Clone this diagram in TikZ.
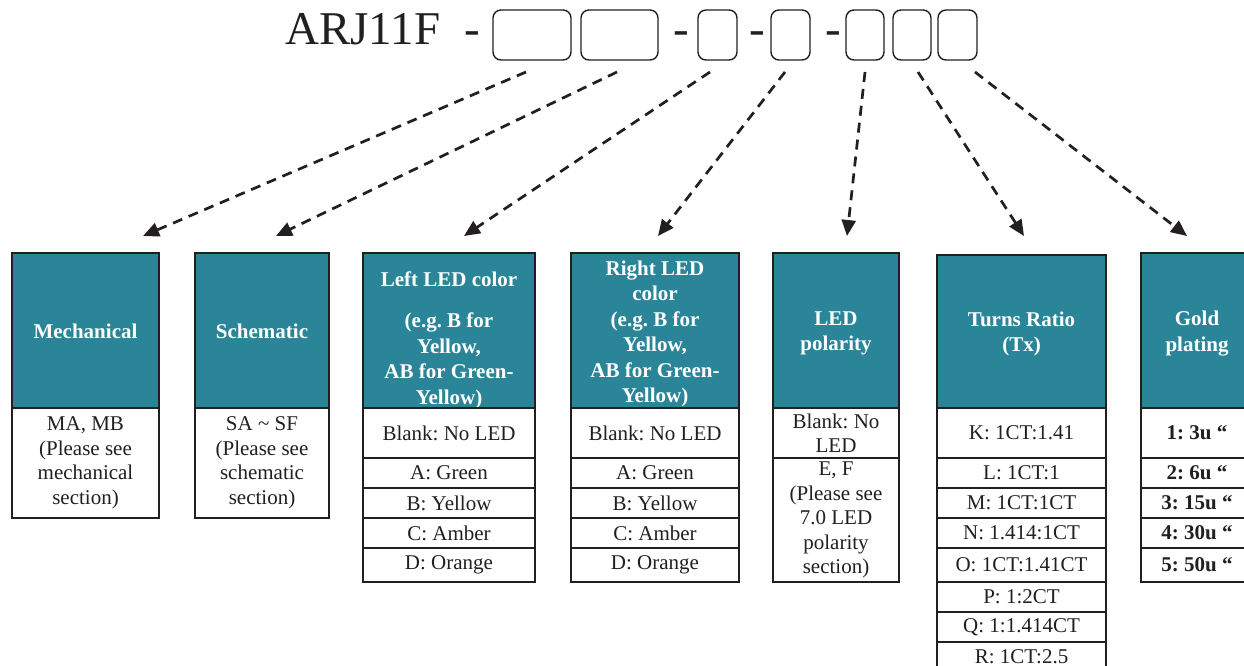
\documentclass[tikz,border=0pt]{standalone}
\usepackage{fontspec}
\setmainfont{Liberation Serif}
\usetikzlibrary{arrows.meta}
\frenchspacing
\definecolor{teal}{RGB}{43,133,152}
\definecolor{lc}{RGB}{35,31,32}
\definecolor{tc}{RGB}{35,31,32}
\newcommand\mycell[7]{%
 \pgfmathsetmacro\cx{(#3+#5)/2}\pgfmathsetmacro\cy{(#4+#6)/2}%
 \pgfmathsetmacro\cw{#5-#3}\pgfmathsetmacro\ch{#6-#4}%
 \node[#2, minimum width=\cw pt, minimum height=\ch pt] (#1) at (\cx,\cy) {#7};}
\tikzset{
 cellbase/.style={draw=lc, line width=1.8pt, inner sep=0pt, align=center},
 hdr/.style={cellbase, fill=teal},
 hdrtxt/.style={inner sep=0pt, align=center, text=white, font=\fontsize{21}{25.5}\selectfont\bfseries},
 body/.style={cellbase, fill=white, text=tc, font=\fontsize{21}{24.5}\selectfont},
 bodyb/.style={body, font=\fontsize{21}{24.5}\selectfont\bfseries},
 tbox/.style={draw=lc, line width=1.4pt, rounded corners=8pt, inner sep=0pt},
 titletxt/.style={inner sep=0pt, text=tc, font=\fontsize{47}{50}\selectfont},
 arr/.style={draw=lc, line width=2.7pt, dash pattern=on 10pt off 7pt, -{Triangle[length=16pt,width=14pt]}}
}
\begin{document}
\begin{tikzpicture}[x=1pt,y=-1pt]
\useasboundingbox (0,0) rectangle (1244,666);
% title
\node[titletxt, anchor=base west] (title) at (285,45) {ARJ11F};
\node[titletxt, anchor=base] (d1) at (472,45) {-};
\node[titletxt, anchor=base] (d2) at (681.5,45) {-};
\node[titletxt, anchor=base] (d3) at (757,45) {-};
\node[titletxt, anchor=base] (d4) at (833.5,45) {-};
\mycell{b1}{tbox}{493}{10}{571}{60}{}
\mycell{b2}{tbox}{581}{10}{658}{60}{}
\mycell{b3}{tbox}{698}{10}{737}{60}{}
\mycell{b4}{tbox}{771}{10}{810}{60}{}
\mycell{b5}{tbox}{846}{10}{884}{60}{}
\mycell{b6}{tbox}{893}{10}{931}{60}{}
\mycell{b7}{tbox}{938}{10}{977}{60}{}
% Mechanical
\mycell{mh}{hdr}{12}{253}{159}{408}{}
\node[hdrtxt] (mht) at (85.5,331) {Mechanical};
\mycell{mb}{body}{12}{408}{159}{518}{MA, MB\\(Please see\\mechanical\\section)}
% Schematic
\mycell{sh}{hdr}{195}{253}{329}{408}{}
\node[hdrtxt] (sht) at (262,331) {Schematic};
\mycell{sb}{body}{195}{408}{329}{518}{SA \textasciitilde{} SF\\(Please see\\schematic\\section)}
% Left LED
\mycell{lh}{hdr}{363}{253}{535}{408}{}
\node[hdrtxt] (lht) at (449,340) {Left LED color\\[16pt](e.g. B for\\Yellow,\\AB for Green-\\Yellow)};
\mycell{l1}{body}{363}{408}{535}{458}{Blank: No LED}
\mycell{l2}{body}{363}{458}{535}{488}{A: Green}
\mycell{l3}{body}{363}{488}{535}{518}{B: Yellow}
\mycell{l4}{body}{363}{518}{535}{548}{C: Amber}
\mycell{l5}{body}{363}{548}{535}{582}{D: Orange}
% Right LED
\mycell{rh}{hdr}{571}{253}{739}{408}{}
\node[hdrtxt] (rht) at (655,334) {Right LED\\color\\(e.g. B for\\Yellow,\\AB for Green-\\Yellow)};
\mycell{r1}{body}{571}{408}{739}{458}{Blank: No LED}
\mycell{r2}{body}{571}{458}{739}{488}{A: Green}
\mycell{r3}{body}{571}{488}{739}{518}{B: Yellow}
\mycell{r4}{body}{571}{518}{739}{548}{C: Amber}
\mycell{r5}{body}{571}{548}{739}{582}{D: Orange}
% LED polarity
\mycell{ph}{hdr}{773}{253}{899}{408}{}
\node[hdrtxt] (pht) at (836,333.5) {LED\\polarity};
\mycell{p1}{body}{773}{408}{899}{458}{Blank: No\\LED}
\mycell{p2}{body}{773}{458}{899}{582}{E, F\\(Please see\\7.0 LED\\polarity\\section)}
% Turns ratio
\mycell{th}{hdr}{937}{255}{1106}{408}{}
\node[hdrtxt] (tht) at (1021.5,334) {Turns Ratio\\(Tx)};
\mycell{t1}{body}{937}{408}{1106}{458}{K: 1CT:1.41}
\mycell{t2}{body}{937}{458}{1106}{488}{L: 1CT:1}
\mycell{t3}{body}{937}{488}{1106}{518}{M: 1CT:1CT}
\mycell{t4}{body}{937}{518}{1106}{548}{N: 1.414:1CT}
\mycell{t5}{body}{937}{548}{1106}{582}{O: 1CT:1.41CT}
\mycell{t6}{body}{937}{582}{1106}{612}{P: 1:2CT}
\mycell{t7}{body}{937}{612}{1106}{642}{Q: 1:1.414CT}
\mycell{t8}{body}{937}{642}{1106}{672}{R: 1CT:2.5}
% Gold plating
\mycell{gh}{hdr}{1141}{253}{1253}{408}{}
\node[hdrtxt] (ght) at (1197,333.5) {Gold\\plating};
\mycell{g1}{bodyb}{1141}{408}{1253}{458}{1: 3u “}
\mycell{g2}{bodyb}{1141}{458}{1253}{488}{2: 6u “}
\mycell{g3}{bodyb}{1141}{488}{1253}{518}{3: 15u “}
\mycell{g4}{bodyb}{1141}{518}{1253}{548}{4: 30u “}
\mycell{g5}{bodyb}{1141}{548}{1253}{582}{5: 50u “}
% arrow ends
\coordinate (s1) at (526,72);  \coordinate (e1) at (143,236);
\coordinate (s2) at (617,72);  \coordinate (e2) at (276,236);
\coordinate (s3) at (710,72);  \coordinate (e3) at (464,236);
\coordinate (s4) at (785,72);  \coordinate (e4) at (658,236);
\coordinate (s5) at (865,72);  \coordinate (e5) at (847,236);
\coordinate (s6) at (918,72);  \coordinate (e6) at (1024,236);
\coordinate (s7) at (975,72);  \coordinate (e7) at (1187,236);
\foreach \i in {1,...,7} { \draw[arr] (s\i) -- (e\i); }
\end{tikzpicture}
\end{document}
